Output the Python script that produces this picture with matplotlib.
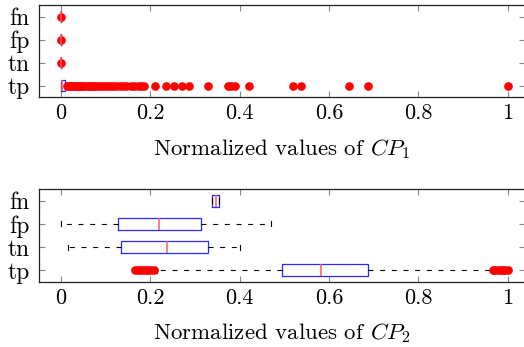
import matplotlib
matplotlib.use("Agg")
import matplotlib.pyplot as plt

plt.rcParams["font.family"] = "cmr10"
plt.rcParams["mathtext.fontset"] = "cm"
plt.rcParams["axes.formatter.use_mathtext"] = True

# Категории (снизу вверх)
labels = ["tp", "tn", "fp", "fn"]

# CP1: почти всё в нуле, у tp много выбросов
cp1_q1 = [0.0, 0.0, 0.0, 0.0]
cp1_med = [0.003, 0.0, 0.0, 0.0]
cp1_q3 = [0.009, 0.0, 0.0, 0.0]
cp1_lo = [0.0, 0.0, 0.0, 0.0]
cp1_hi = [0.009, 0.0, 0.0, 0.0]
cp1_fliers = [
    [0.014, 0.018, 0.022, 0.026, 0.030, 0.034, 0.038, 0.042, 0.046, 0.050,
     0.055, 0.060, 0.065, 0.070, 0.075, 0.080, 0.085, 0.090, 0.097, 0.104,
     0.110, 0.118, 0.124, 0.133, 0.140, 0.146, 0.158, 0.165, 0.172, 0.180,
     0.186, 0.211, 0.235, 0.253, 0.272, 0.287, 0.330, 0.375, 0.382, 0.390,
     0.421, 0.520, 0.538, 0.645, 0.688, 1.0],
    [0.0],
    [0.0],
    [0.0],
]

# CP2
cp2_q1 = [0.494, 0.134, 0.129, 0.338]
cp2_med = [0.582, 0.237, 0.220, 0.347]
cp2_q3 = [0.687, 0.330, 0.313, 0.355]
cp2_lo = [0.215, 0.016, 0.0, 0.338]
cp2_hi = [0.964, 0.400, 0.470, 0.355]
cp2_fliers = [
    [0.166, 0.172, 0.178, 0.184, 0.190, 0.196, 0.202, 0.208,
     0.967, 0.972, 0.978, 0.984, 0.990, 0.995, 1.0],
    [],
    [],
    [],
]

xticks = [0, 0.2, 0.4, 0.6, 0.8, 1.0]
xticklabels = ["0", "0.2", "0.4", "0.6", "0.8", "1"]


def make_stats(q1, med, q3, lo, hi, fliers):
    stats = []
    for i in range(len(labels)):
        stats.append(dict(q1=q1[i], med=med[i], q3=q3[i], whislo=lo[i],
                          whishi=hi[i], fliers=fliers[i], label=labels[i]))
    return stats


def draw(ax, stats, xlabel, xpad, lpad):
    ax.bxp(stats, positions=[1, 2, 3, 4], vert=False, widths=0.5,
           capwidths=0.22, showfliers=True,
           boxprops=dict(color="#2a2aff", linewidth=0.9),
           medianprops=dict(color="#ff5a5a", linewidth=1.1),
           whiskerprops=dict(color="black", linewidth=0.8, linestyle=(0, (4.5, 6))),
           capprops=dict(color="black", linewidth=0.8),
           flierprops=dict(marker="o", markerfacecolor="red",
                           markeredgecolor="red", markersize=5.2,
                           linestyle="none"))
    ax.set_xlim(-0.0497, 1.0387)
    ax.set_ylim(0.5, 4.5)
    ax.set_yticks([1, 2, 3, 4])
    ax.set_yticklabels(labels, fontsize=17)
    ax.set_xticks(xticks)
    ax.set_xticklabels(xticklabels, fontsize=16)
    ax.tick_params(direction="in", length=4.5, width=0.8, color="#888888",
                   top=True, right=True)
    ax.tick_params(axis="x", pad=xpad)
    ax.tick_params(axis="y", pad=6.5)
    for s in ax.spines.values():
        s.set_color("#222222")
        s.set_linewidth(0.9)
    ax.set_xlabel(xlabel, fontsize=16.5, labelpad=lpad)


fig = plt.figure(figsize=(5.24, 3.47), dpi=100)
ax1 = fig.add_axes([38.5 / 524, 1 - 97 / 347, 486.5 / 524, 92 / 347])
ax2 = fig.add_axes([38.5 / 524, 1 - 281.7 / 347, 486.5 / 524, 92.4 / 347])

draw(ax1, make_stats(cp1_q1, cp1_med, cp1_q3, cp1_lo, cp1_hi, cp1_fliers),
     r"Normalized values of $CP_1$", 4.5, 10.5)
draw(ax2, make_stats(cp2_q1, cp2_med, cp2_q3, cp2_lo, cp2_hi, cp2_fliers),
     r"Normalized values of $CP_2$", 5, 9.5)

fig.savefig("out.png", dpi=100)
